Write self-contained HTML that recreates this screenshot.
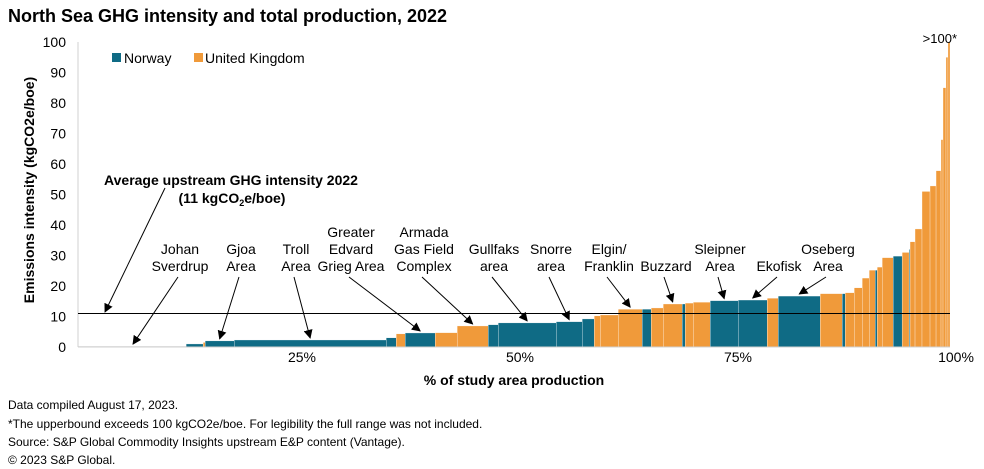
<!DOCTYPE html>
<html><head><meta charset="utf-8"><style>
body{margin:0;background:#fff;font-family:"Liberation Sans",Arial,sans-serif}
svg{display:block}
</style></head><body>
<svg width="984" height="469" viewBox="0 0 984 469" xmlns="http://www.w3.org/2000/svg" font-family="Liberation Sans, Arial, sans-serif">
<defs><marker id="ah" viewBox="0 0 10 10" refX="9" refY="5" markerWidth="9" markerHeight="9" orient="auto" markerUnits="userSpaceOnUse"><path d="M0,0 L10,5 L0,10 z" fill="#000"/></marker></defs>
<text x="8" y="22" font-size="18" font-weight="bold">North Sea GHG intensity and total production, 2022</text>
<g id="yaxis"></g>
<g id="bars"></g>
<line x1="78" y1="42" x2="78" y2="347" stroke="#d0d0d0"/>
<line x1="78" y1="347" x2="950" y2="347" stroke="#d0d0d0"/>
<g id="avg"></g>
<text transform="translate(34,190) rotate(-90)" text-anchor="middle" font-size="14" font-weight="bold">Emissions intensity (kgCO2e/boe)</text>
<text x="514" y="385" text-anchor="middle" font-size="14" font-weight="bold">% of study area production</text>
<g>
<rect x="112" y="53" width="9" height="9" fill="#0f6b85"/>
<text x="124" y="63" font-size="14">Norway</text>
<rect x="194" y="53" width="9" height="9" fill="#f09a3a"/>
<text x="205" y="63" font-size="14">United Kingdom</text>
</g>
<text x="957" y="43" text-anchor="end" font-size="13">&gt;100*</text>
<g font-size="14" font-weight="bold" text-anchor="middle">
<text x="231" y="185">Average upstream GHG intensity 2022</text>
<text x="232" y="203">(11 kgCO<tspan font-size="9" dy="3">2</tspan><tspan dy="-3">e/boe)</tspan></text>
</g>
<line x1="165" y1="188" x2="105" y2="312" stroke="#000" marker-end="url(#ah)"/>
<g id="annot" font-size="14" text-anchor="middle"></g>
<g font-size="12">
<text x="8" y="409">Data compiled August 17, 2023.</text>
<text x="8" y="428">*The upperbound exceeds 100 kgCO2e/boe. For legibility the full range was not included.</text>
<text x="8" y="446">Source: S&amp;P Global Commodity Insights upstream E&amp;P content (Vantage).</text>
<text x="8" y="464">© 2023 S&amp;P Global.</text>
</g>
</svg>
<script>
const widths=[12.4,1.95,0.23,3.33,17.43,1.15,1.03,3.44,2.52,3.56,1.15,6.65,2.98,1.38,0.69,2.06,2.75,1.03,1.38,2.18,0.34,0.92,1.95,3.21,3.33,1.26,4.82,2.52,0.34,1.03,0.92,0.80,0.69,0.23,0.57,1.26,1.03,0.80,0.11,0.57,0.80,0.92,0.69,0.57,0.23,0.34,0.23,0.23];
const values=[0.3,1.0,1.5,2.0,2.3,3.0,4.3,4.6,4.7,6.9,7.3,7.9,8.3,9.2,10.2,10.5,12.4,12.4,12.8,14.1,14.1,14.4,14.7,15.2,15.4,16.0,16.7,17.5,17.5,17.8,19.4,22.6,25.2,25.2,26.2,29.3,29.8,31,32,34.5,38.7,51,52.8,57.8,68,85,95,100];
const countries=["N","N","U","N","N","N","U","N","U","U","N","N","N","N","U","U","U","N","U","U","N","U","U","N","N","U","N","U","N","U","U","U","U","N","U","U","N","U","N","U","U","U","U","U","U","U","U","U"];
const yTicks=[0,10,20,30,40,50,60,70,80,90,100];
const xTicks=[25,50,75,100];
const avgValue=11;
const annotations=[
 {lines:["Johan","Sverdrup"],cx:180,bar:0},
 {lines:["Gjoa","Area"],cx:241,bar:3},
 {lines:["Troll","Area"],cx:296,bar:4},
 {lines:["Greater","Edvard","Grieg Area"],cx:351,bar:7},
 {lines:["Armada","Gas Field","Complex"],cx:424,bar:9},
 {lines:["Gullfaks","area"],cx:494,bar:11},
 {lines:["Snorre","area"],cx:551,bar:12},
 {lines:["Elgin/","Franklin"],cx:609,bar:16},
 {lines:["Buzzard"],cx:666,bar:19},
 {lines:["Sleipner","Area"],cx:720,bar:23},
 {lines:["Ekofisk"],cx:779,bar:24},
 {lines:["Oseberg","Area"],cx:828,bar:26}
];
const NS="http://www.w3.org/2000/svg";
const X0=78,X1=950,Y0=347,Y100=42;
const total=widths.reduce((a,b)=>a+b,0);
const xs=p=>X0+(p/100)*(X1-X0);
const ys=v=>Y0-(v/100)*(Y0-Y100);
function mk(t,a,p){const e=document.createElementNS(NS,t);for(const k in a)e.setAttribute(k,a[k]);p.appendChild(e);return e;}
const yg=document.getElementById('yaxis');
yTicks.forEach(v=>{const t=mk('text',{x:66,y:ys(v)+5,'text-anchor':'end','font-size':14},yg);t.textContent=v;

});
xTicks.forEach(v=>{const t=mk('text',{x:xs(v)+6,y:362,'text-anchor':'middle','font-size':14},yg);t.textContent=v+'%';

});
const bg=document.getElementById('bars');
let cum=0;const centers=[];
widths.forEach((w,i)=>{const a=cum/total*100,b=(cum+w)/total*100;cum+=w;
const x=xs(a),x2=xs(b),y=ys(values[i]);centers.push([(x+x2)/2,y]);
const r=mk('rect',{x:x,y:y,width:Math.max(x2-x,0.6),height:Y0-y,fill:i===0?'#c8c8c8':(countries[i]==='N'?'#0f6b85':'#f09a3a'),stroke:'#fff','stroke-width':0.3},bg);

});
const ag=document.getElementById('avg');
const al=mk('line',{x1:X0,x2:X1,y1:ys(avgValue),y2:ys(avgValue),stroke:'#000','stroke-width':1},ag);


const ng=document.getElementById('annot');
annotations.forEach(an=>{const n=an.lines.length;
an.lines.forEach((l,j)=>{const t=mk('text',{x:an.cx,y:271-(n-1-j)*17},ng);t.textContent=l;

});
const c=centers[an.bar];
const tx=an.bar===0?133:c[0];
const ln=mk('line',{x1:an.cx-2,y1:277,x2:tx,y2:c[1]-2,stroke:'#000','stroke-width':1,'marker-end':'url(#ah)'},ng);

});
</script>
</body></html>
